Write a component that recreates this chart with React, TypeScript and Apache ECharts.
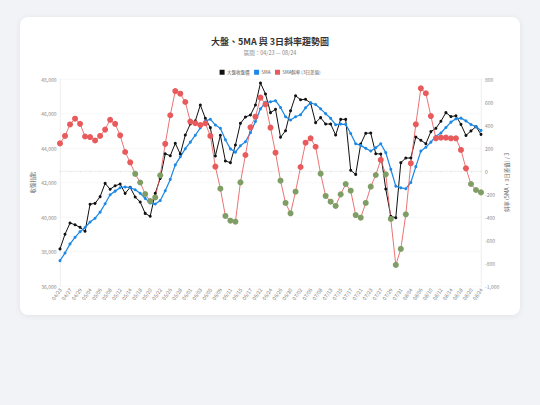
import React, { useEffect, useRef } from "react";
import * as echarts from "echarts";

const dates = [
  "04/23", "04/24", "04/27", "04/28", "04/29", "04/30", "05/04", "05/05", "05/06", "05/07",
  "05/08", "05/11", "05/12", "05/13", "05/14", "05/15", "05/18", "05/19", "05/20", "05/21",
  "05/22", "05/25", "05/26", "05/27", "05/28", "05/29", "06/01", "06/02", "06/03", "06/04",
  "06/05", "06/08", "06/09", "06/10", "06/11", "06/12", "06/15", "06/16", "06/17", "06/18",
  "06/22", "06/23", "06/24", "06/25", "06/26", "06/29", "06/30", "07/01", "07/02", "07/03",
  "07/06", "07/07", "07/08", "07/10", "07/13", "07/14", "07/15", "07/16", "07/17", "07/20",
  "07/21", "07/22", "07/23", "07/24", "07/27", "07/28", "07/29", "07/30", "07/31", "08/03",
  "08/04", "08/05", "08/06", "08/07", "08/10", "08/11", "08/12", "08/13", "08/14", "08/17",
  "08/18", "08/19", "08/20", "08/21", "08/24",
];

const closeValues = [
  38150, 39000, 39650, 39550, 39400, 39170, 40740, 40790, 41180, 41950,
  41610, 41810, 41910, 41370, 41720, 41160, 40870, 40210, 40040, 41370,
  42240, 43670, 43550, 44270, 43650, 44750, 45390, 45570, 46490, 45720,
  45180, 43540, 44740, 43250, 43150, 44170, 45430, 45800, 45910, 46490,
  47770, 47130, 46050, 46240, 44620, 45000, 46160, 47030, 46800, 46820,
  46610, 45470, 45760, 45390, 45390, 44750, 45660, 45660, 42710, 42470,
  44230, 44850, 44870, 43670, 43650, 41620, 40040, 39960, 43150, 43420,
  43420, 44640, 44450, 44250, 44950, 45140, 45550, 46050, 45820, 45870,
  45370, 44730, 44990, 45240, 44790,
];

const ma5Values = [
  37470, 37910, 38440, 38820, 39150, 39390, 39710, 39930, 40280, 40770,
  41290, 41500, 41700, 41740, 41700, 41580, 41380, 41080, 40810, 40750,
  40960, 41520, 42180, 43020, 43490, 43960, 44340, 44740, 45170, 45560,
  45670, 45330, 45140, 44480, 43950, 43760, 44130, 44360, 44890, 45540,
  46270, 46650, 46680, 46740, 46350, 45810, 45620, 45810, 45930, 46330,
  46620, 46520, 46270, 45990, 45720, 45350, 45390, 45370, 44840, 44250,
  44150, 43980, 43830, 44020, 44250, 43730, 42770, 41790, 41690, 41640,
  42000, 42920, 43820, 44040, 44340, 44680, 44870, 45190, 45500, 45690,
  45730, 45570, 45360, 45240, 45020,
];

const slopeValues = [
  240, 305, 405, 455, 410, 300, 295, 265, 305, 360,
  445, 410, 310, 165, 75, -25, -100, -200, -262, -230,
  -38, 236, 485, 695, 672, 600, 430, 415, 400, 415,
  305, 38, -154, -391, -432, -441, -99, 139, 380, 472,
  638, 580, 377, 159, -84, -278, -368, -180, 35, 246,
  284, 211, -23, -217, -267, -304, -203, -113, -171, -383,
  -406, -278, -136, -35, 96, -29, -417, -817, -678, -377,
  67, 406, 719, 676, 478, 284, 290, 290, 284, 284,
  183, 23, -113, -165, -186,
];

const seriesNames = ["大盤收盤價", "5MA", "5MA斜率 (3日差值)"];

export default function App() {
  const ref = useRef<HTMLDivElement>(null);
  useEffect(() => {
    if (!ref.current) return;
    const chart = echarts.init(ref.current, null, { renderer: "svg" });
    const font = '"Noto Sans CJK TC", "Noto Sans", sans-serif';
    const fmt = (v: number) => Number(v).toLocaleString("en-US");
    const RED = "#e85a5c";
    const GREEN = "#7f9e66";
    chart.setOption({
      animation: false,
      textStyle: { fontFamily: font },
      title: [
        {
          text: "大盤、5MA 與 3日斜率趨勢圖",
          left: "center",
          top: 40,
          padding: 0,
          textStyle: { fontSize: 18, fontWeight: "bold", color: "#333", fontFamily: font },
        },
        {
          text: "區間：04/23 — 08/24",
          left: "center",
          top: 67,
          padding: 0,
          textStyle: { fontSize: 11, fontWeight: "normal", color: "#888", fontFamily: font },
        },
      ],
      legend: {
        top: 105.5,
        left: "center",
        padding: 0,
        itemWidth: 10,
        itemHeight: 10,
        itemGap: 9,
        icon: "rect",
        data: seriesNames,
        textStyle: { fontSize: 9, color: "#555", fontFamily: font },
      },
      grid: { left: 80, right: 78, top: 124, bottom: 58 },
      xAxis: {
        type: "category",
        data: dates,
        boundaryGap: false,
        axisLine: { lineStyle: { color: "#dddddd" } },
        axisTick: { show: true, interval: 1, length: 4, lineStyle: { color: "#dddddd" } },
        axisLabel: { interval: 1, rotate: 55, fontSize: 10, color: "#777", margin: 5, fontFamily: font },
        splitLine: { show: false },
      },
      yAxis: [
        {
          type: "value",
          min: 36000,
          max: 48000,
          interval: 2000,
          name: "收盤指數",
          nameLocation: "middle",
          nameGap: 48,
          nameTextStyle: { fontSize: 11, color: "#666", fontFamily: font },
          axisLine: { show: true, lineStyle: { color: "#dddddd" } },
          axisTick: { show: false },
          axisLabel: { fontSize: 10, color: "#888", margin: 7, formatter: fmt, fontFamily: font },
          splitLine: { show: true, lineStyle: { color: "#eeeeee" } },
        },
        {
          type: "value",
          min: -1000,
          max: 800,
          interval: 200,
          name: "斜率 (5MA，3日差值) / 3",
          nameLocation: "middle",
          nameGap: 43,
          nameTextStyle: { fontSize: 11, color: "#666", fontFamily: font },
          axisLine: { show: true, lineStyle: { color: "#dddddd" } },
          axisTick: { show: false },
          axisLabel: { fontSize: 10, color: "#888", margin: 8, formatter: fmt, fontFamily: font },
          splitLine: { show: false },
        },
      ],
      series: [
        {
          name: seriesNames[0],
          type: "line",
          yAxisIndex: 0,
          data: closeValues,
          symbol: "circle",
          symbolSize: 6,
          showAllSymbol: true,
          itemStyle: { color: "#111111" },
          lineStyle: { color: "#111111", width: 2 },
        },
        {
          name: seriesNames[1],
          type: "line",
          yAxisIndex: 0,
          data: ma5Values,
          symbol: "circle",
          symbolSize: 6,
          showAllSymbol: true,
          itemStyle: { color: "#1e88e5" },
          lineStyle: { color: "#1e88e5", width: 2.5 },
        },
        {
          name: seriesNames[2],
          type: "line",
          yAxisIndex: 1,
          data: slopeValues.map((v) => ({
            value: v,
            itemStyle: { color: v < 0 ? GREEN : RED },
          })),
          symbol: "circle",
          symbolSize: 12,
          showAllSymbol: true,
          itemStyle: { color: RED },
          lineStyle: { color: RED, width: 2, opacity: 0.85 },
        },
      ],
    });
    return () => chart.dispose();
  }, []);

  return (
    <div
      style={{
        position: "fixed",
        left: 0,
        top: 0,
        width: 540,
        height: 405,
        background: "#f2f3f7",
      }}
    >
      <div
        style={{
          position: "absolute",
          left: 20,
          top: 17,
          width: 500,
          height: 298,
          background: "#ffffff",
          borderRadius: 8,
          boxShadow: "0 1px 6px rgba(0,0,0,0.07)",
          overflow: "hidden",
        }}
      >
        <div
          ref={ref}
          style={{ width: 1000, height: 596, transform: "scale(0.5)", transformOrigin: "0 0" }}
        />
      </div>
    </div>
  );
}
